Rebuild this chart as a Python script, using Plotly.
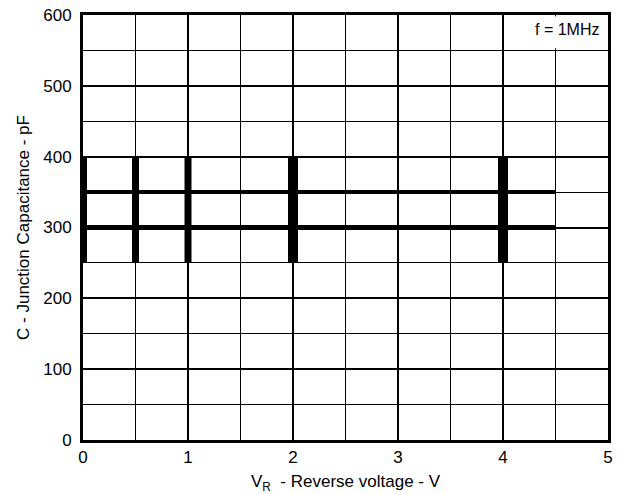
import plotly.graph_objects as go

# Data
bar_voltages = [0, 0.5, 1, 2, 4]            # V_R positions of the vertical bars
bar_cap_low = [250, 250, 250, 250, 250]     # pF
bar_cap_high = [400, 400, 400, 400, 400]    # pF
level_caps = [300, 350]                     # pF horizontal levels
level_v_start = [0, 0]
level_v_end = [4.5, 4.5]
x_ticks = [0, 1, 2, 3, 4, 5]
y_ticks = [0, 100, 200, 300, 400, 500, 600]

# Styles
bar_widths = [8, 7, 7, 10, 10]
level_widths = [5, 4]
FONT = "Arial, Liberation Sans, sans-serif"

fig = go.Figure()

for v0, v1, c, w in zip(level_v_start, level_v_end, level_caps, level_widths):
    fig.add_trace(go.Scatter(x=[v0, v1], y=[c, c], mode="lines",
                             line=dict(color="black", width=w),
                             showlegend=False, hoverinfo="skip"))

for v, lo, hi, w in zip(bar_voltages, bar_cap_low, bar_cap_high, bar_widths):
    fig.add_trace(go.Scatter(x=[v, v], y=[lo, hi], mode="lines",
                             line=dict(color="black", width=w),
                             showlegend=False, hoverinfo="skip"))

# white patch behind the frequency note (covers the minor grid line there)
fig.add_shape(type="rect", x0=4.45, x1=4.55, y0=553, y1=598, xref="x", yref="y",
              fillcolor="white", line=dict(width=0), layer="above")

fig.add_annotation(x=5, y=580, xref="x", yref="y", text="f = 1MHz",
                   showarrow=False, xanchor="right", yanchor="middle", xshift=-7,
                   font=dict(family=FONT, size=16, color="black"))

fig.update_xaxes(range=[0, 5], tickvals=x_ticks, ticktext=[str(t) for t in x_ticks],
                 showgrid=True, gridcolor="black", gridwidth=1.8,
                 minor=dict(dtick=0.5, tick0=0, showgrid=True, gridcolor="black", gridwidth=1.1),
                 showline=True, linecolor="black", linewidth=3, mirror=True,
                 zeroline=False, ticks="", automargin=False, ticklabelstandoff=0,
                 tickfont=dict(family=FONT, size=17, color="black"),
                 title=dict(text="V<sub>R</sub>  - Reverse voltage - V",
                            font=dict(family=FONT, size=17, color="black"), standoff=12))

fig.update_yaxes(range=[0, 600], tickvals=y_ticks, ticktext=[str(t) for t in y_ticks],
                 showgrid=True, gridcolor="black", gridwidth=1.8,
                 minor=dict(dtick=50, tick0=0, showgrid=True, gridcolor="black", gridwidth=1.1),
                 showline=True, linecolor="black", linewidth=3, mirror=True,
                 zeroline=False, ticks="", automargin=False, ticklabelstandoff=5,
                 tickfont=dict(family=FONT, size=17, color="black"),
                 title=dict(text="C - Junction Capacitance - pF",
                            font=dict(family=FONT, size=17, color="black"), standoff=10))

fig.update_layout(width=623, height=494,
                  margin=dict(l=83, r=15, t=15, b=54),
                  plot_bgcolor="white", paper_bgcolor="white",
                  showlegend=False)

# remove the page's default body margin so the figure fills the window exactly
fig.write_html("out.html", config={"displayModeBar": False},
               post_script="document.body.style.margin='0';")
